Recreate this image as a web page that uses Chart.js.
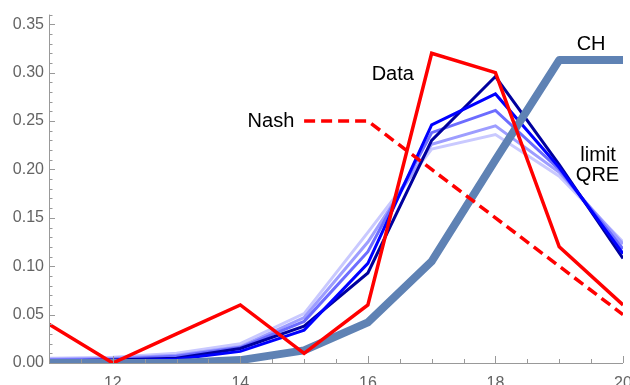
<!DOCTYPE html>
<html>
<head>
<meta charset="utf-8">
<script src="https://cdn.jsdelivr.net/npm/chart.js@4.4.1/dist/chart.umd.min.js"></script>
<style>
  html, body { margin: 0; padding: 0; background: #fff; }
  #wrap { width: 630px; height: 385px; }
</style>
</head>
<body>
<div id="wrap"><canvas id="grafica"></canvas></div>
<script>
// numbers chosen (11..20)
const numeros = [11, 12, 13, 14, 15, 16, 17, 18, 19, 20];

// observed frequencies
const datos = [0.04, 0.0, 0.03, 0.06, 0.01, 0.06, 0.32, 0.30, 0.12, 0.06];
// Nash prediction (only from 15 on)
const nash = [null, null, null, null, 0.25, 0.25, 0.20, 0.15, 0.10, 0.05];
// cognitive hierarchy
const ch = [0.0, 0.0, 0.0, 0.003, 0.013, 0.042, 0.105, 0.21, 0.313, 0.313];
// QRE curves, from lightest to darkest
const qre1 = [0.005, 0.006, 0.01, 0.02, 0.051, 0.135, 0.221, 0.236, 0.193, 0.125];
const qre2 = [0.004, 0.005, 0.008, 0.017, 0.047, 0.125, 0.226, 0.245, 0.197, 0.123];
const qre3 = [0.003, 0.004, 0.007, 0.016, 0.043, 0.115, 0.238, 0.261, 0.200, 0.118];
const qre4 = [0.002, 0.002, 0.004, 0.012, 0.034, 0.103, 0.246, 0.278, 0.202, 0.113];
const qre5 = [0.002, 0.003, 0.005, 0.015, 0.038, 0.093, 0.230, 0.296, 0.205, 0.108];

const ticksY = [0, 0.05, 0.10, 0.15, 0.20, 0.25, 0.30, 0.35];
const ticksX = [12, 14, 16, 18, 20];

// text labels placed in data coordinates
const etiquetas = [
  { texto: "Data", x: 16.39, y: 0.298 },
  { texto: "Nash", x: 14.48, y: 0.250 },
  { texto: "CH", x: 19.50, y: 0.329 },
  { texto: "limit", x: 19.61, y: 0.214 },
  { texto: "QRE", x: 19.60, y: 0.194 }
];

function puntos(arr) {
  return numeros.map((n, i) => ({ x: n, y: arr[i] }));
}

function linea(arr, color, ancho, orden) {
  return {
    data: puntos(arr),
    borderColor: color,
    borderWidth: ancho,
    pointRadius: 0,
    tension: 0,
    fill: false,
    order: orden
  };
}

const conjuntos = [
  linea(datos, "#ff0000", 3.5, 0),
  Object.assign(linea(nash, "#ff0000", 3.5, 1), { borderDash: [11, 6], spanGaps: false }),
  Object.assign(linea(ch, "#5f82b4", 8, 2), { borderCapStyle: "round", borderJoinStyle: "round" }),
  linea(qre1, "#c9c9ff", 3, 7),
  linea(qre2, "#9d9dff", 3, 6),
  linea(qre3, "#6c6cff", 3, 5),
  linea(qre4, "#0000ff", 3, 3),
  linea(qre5, "#00009e", 3, 4)
];

// ticks drawn inward plus the text labels
const marcas = {
  id: "marcas",
  afterDatasetsDraw(chart) {
    const ctx = chart.ctx;
    const x = chart.scales.x, y = chart.scales.y;
    const area = chart.chartArea;
    ctx.save();
    ctx.strokeStyle = "#999999";
    ctx.lineWidth = 1;
    ctx.beginPath();
    for (let v = 0; v <= 0.36 + 1e-9; v += 0.01) {
      const py = Math.round(y.getPixelForValue(v)) + 0.5;
      const mayor = Math.abs(v / 0.05 - Math.round(v / 0.05)) < 1e-6;
      ctx.moveTo(area.left, py);
      ctx.lineTo(area.left + (mayor ? 6 : 3.5), py);
    }
    for (let v = 11; v <= 20 + 1e-9; v += 0.5) {
      const px = Math.round(x.getPixelForValue(v)) + 0.5;
      const mayor = v % 2 === 0;
      ctx.moveTo(px, area.bottom);
      ctx.lineTo(px, area.bottom - (mayor ? 7 : 4));
    }
    ctx.stroke();
    // axis lines
    ctx.beginPath();
    ctx.moveTo(area.left + 0.5, area.top);
    ctx.lineTo(area.left + 0.5, area.bottom + 0.5);
    ctx.lineTo(area.right, area.bottom + 0.5);
    ctx.stroke();

    ctx.fillStyle = "#000";
    ctx.font = "20px 'Liberation Sans', Arial, sans-serif";
    ctx.textAlign = "center";
    ctx.textBaseline = "middle";
    etiquetas.forEach(e => {
      ctx.fillText(e.texto, x.getPixelForValue(e.x), y.getPixelForValue(e.y));
    });
    ctx.restore();
  }
};

new Chart(document.getElementById("grafica"), {
  type: "line",
  data: { datasets: conjuntos },
  options: {
    responsive: true,
    maintainAspectRatio: false,
    animation: false,
    layout: { padding: { top: 8, right: 7, left: 0, bottom: 0 } },
    plugins: { legend: { display: false }, tooltip: { enabled: false } },
    scales: {
      x: {
        type: "linear",
        min: 11,
        max: 20,
        border: { display: false },
        grid: { display: false, drawTicks: false },
        afterBuildTicks: s => { s.ticks = ticksX.map(v => ({ value: v })); },
        ticks: {
          color: "#646464",
          font: { family: "'Liberation Sans', Arial, sans-serif", size: 16 },
          padding: 11,
          maxRotation: 0,
          callback: v => String(v)
        },
        afterFit: s => { s.height = 22; s.paddingLeft = 0; s.paddingRight = 0; }
      },
      y: {
        min: 0,
        max: 0.36,
        border: { display: false },
        grid: { display: false, drawTicks: false },
        afterBuildTicks: s => { s.ticks = ticksY.map(v => ({ value: v })); },
        ticks: {
          color: "#646464",
          font: { family: "'Liberation Sans', Arial, sans-serif", size: 16 },
          padding: 5,
          callback: v => Number(v).toFixed(2)
        },
        afterFit: s => { s.width = 49; }
      }
    }
  },
  plugins: [marcas]
});
</script>
</body>
</html>
